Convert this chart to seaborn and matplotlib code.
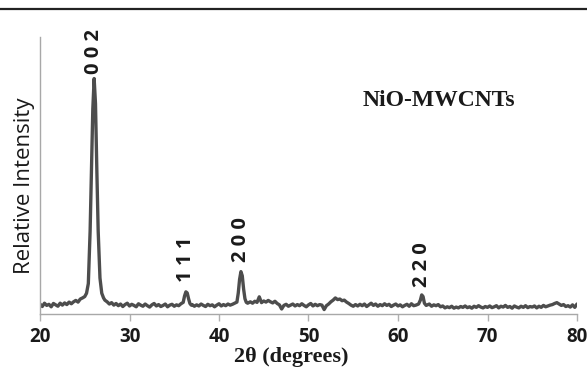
import matplotlib
matplotlib.use("Agg")
import matplotlib.pyplot as plt
import seaborn as sns
import pandas as pd
from matplotlib.lines import Line2D

# ---- data (2-theta in degrees, relative intensity in arbitrary units) ----
two_theta = [
    20.0, 20.25, 20.5, 20.75, 21.0, 21.25, 21.5, 21.75, 22.0, 22.25,
    22.5, 22.75, 23.0, 23.25, 23.5, 23.75, 24.0, 24.25, 24.5, 24.75,
    25.0, 25.2, 25.4, 25.6, 25.75, 25.9, 26.05, 26.2, 26.35, 26.5, 26.7, 26.9, 27.1,
    27.25, 27.5, 27.75, 28.0, 28.25, 28.5, 28.75, 29.0, 29.25, 29.5,
    29.75, 30.0, 30.25, 30.5, 30.75, 31.0, 31.25, 31.5, 31.75, 32.0,
    32.25, 32.5, 32.75, 33.0, 33.25, 33.5, 33.75, 34.0, 34.25, 34.5,
    34.75, 35.0, 35.25, 35.5, 35.75,
    36.0, 36.15, 36.3, 36.45, 36.6, 36.75, 36.9,
    37.0, 37.25, 37.5, 37.75, 38.0, 38.25, 38.5, 38.75, 39.0, 39.25,
    39.5, 39.75, 40.0, 40.25, 40.5, 40.75, 41.0, 41.25, 41.5, 41.75,
    42.0, 42.15, 42.3, 42.45, 42.6, 42.75, 42.9, 43.05, 43.2,
    43.5, 43.75, 44.0, 44.25, 44.5, 44.75, 45.0, 45.25, 45.5, 45.75,
    46.0, 46.25, 46.5, 46.75, 47.0, 47.25, 47.5, 47.75, 48.0, 48.25,
    48.5, 48.75, 49.0, 49.25, 49.5, 49.75, 50.0, 50.25, 50.5, 50.75,
    51.0, 51.25, 51.5,
    51.75, 52.0, 52.25, 52.5, 52.75, 53.0, 53.25, 53.5, 53.75, 54.0,
    54.25, 54.5, 54.75, 55.0, 55.25, 55.5, 55.75, 56.0, 56.25, 56.5,
    56.75, 57.0, 57.25, 57.5, 57.75, 58.0, 58.25, 58.5, 58.75, 59.0,
    59.25, 59.5, 59.75, 60.0, 60.25, 60.5, 60.75, 61.0, 61.25, 61.5, 61.75,
    62.0, 62.3, 62.5, 62.65, 62.8, 62.95, 63.15,
    63.5, 63.75, 64.0, 64.25, 64.5, 64.75, 65.0, 65.25, 65.5, 65.75,
    66.0, 66.25, 66.5, 66.75, 67.0, 67.25, 67.5, 67.75, 68.0, 68.25,
    68.5, 68.75, 69.0, 69.25, 69.5, 69.75, 70.0, 70.25, 70.5, 70.75,
    71.0, 71.25, 71.5, 71.75, 72.0, 72.25, 72.5, 72.75, 73.0, 73.25,
    73.5, 73.75, 74.0, 74.25, 74.5, 74.75, 75.0, 75.25, 75.5, 75.75,
    76.0, 76.25, 76.5, 76.75, 77.0,
    77.25, 77.5, 77.75, 78.0, 78.25, 78.5, 78.75, 79.0, 79.25, 79.5, 79.75, 80.0,
]
intensity = [
    3.6, 2.7, 3.9, 3.1, 3.5, 2.6, 3.8, 3.3, 2.8, 3.9,
    3.2, 4.0, 3.4, 4.3, 3.7, 4.4, 4.9, 4.3, 5.4, 5.8,
    6.3, 7.5, 11.0, 30.0, 52.0, 74.0, 85.0, 76.0, 52.0, 30.0, 13.0, 7.5, 5.8,
    5.0, 4.4, 3.6, 4.1, 3.2, 3.8, 3.0, 3.6, 2.7, 3.4,
    3.9, 2.9, 3.5, 3.1, 2.6, 3.7, 3.2, 2.8, 3.6, 3.0,
    2.5, 3.3, 3.8, 2.9, 3.4, 2.7, 3.1, 3.6, 2.6, 3.2,
    3.5, 2.8, 3.3, 3.0, 3.7,
    4.2, 6.5, 8.0, 7.6, 5.5, 3.8, 3.2,
    3.4, 2.8, 3.3, 2.9, 3.6, 3.1, 2.7, 3.5, 3.0, 3.3,
    2.6, 3.2, 3.7, 2.9, 3.4, 3.0, 3.6, 3.2, 3.5, 3.9,
    4.3, 7.5, 12.5, 15.3, 13.8, 9.0, 5.5, 4.2, 3.9,
    4.4, 3.9, 4.6, 4.2, 6.2, 4.1, 4.7, 4.3, 4.9, 4.4,
    4.0, 4.6, 3.8, 3.3, 1.8, 3.1, 3.5, 2.8, 3.2, 3.6,
    2.9, 3.4, 3.0, 3.7, 3.1, 2.6, 3.3, 3.8, 2.9, 3.5,
    3.0, 3.4, 3.2,
    1.6, 3.0, 3.6, 4.4, 5.0, 5.8, 5.2, 5.4, 4.8, 5.0,
    4.3, 3.8, 3.2, 2.8, 3.4, 2.9, 3.5, 3.0, 3.6, 2.7,
    3.3, 3.9, 3.1, 3.6, 2.8, 3.4, 3.0, 3.7, 3.1, 3.5,
    2.7, 3.2, 3.6, 2.9, 3.3, 2.6, 3.1, 3.5, 2.8, 3.7, 3.0,
    3.2, 3.6, 5.0, 6.9, 6.3, 3.9, 3.1,
    3.6, 2.8, 3.3, 3.0, 3.4, 2.6, 2.9, 2.2, 2.6, 2.3,
    2.8, 2.1, 2.5, 2.2, 2.7, 2.4, 2.9, 2.3, 2.6, 2.1,
    2.8, 2.4, 3.0, 2.5, 2.2, 2.7, 2.4, 2.9, 2.3, 2.6,
    3.0, 2.2, 2.8, 2.5, 3.1, 2.4, 2.7, 2.1, 2.9, 2.5,
    2.2, 2.8, 2.4, 3.0, 2.3, 2.7, 2.5, 2.9, 2.2, 2.8,
    2.4, 3.1, 2.6, 2.9, 3.2,
    3.4, 3.8, 4.1, 3.6, 3.1, 3.4, 2.7, 3.0, 2.5, 3.3, 2.4, 3.6,
]
assert len(two_theta) == len(intensity), (len(two_theta), len(intensity))

peak_labels = ["0 0 2", "1 1 1", "2 0 0", "2 2 0"]
peak_positions = [26.05, 36.3, 42.45, 62.65]
peak_heights = [85.0, 8.0, 15.3, 6.9]

x_ticks = [20, 30, 40, 50, 60, 70, 80]
sample_name = "NiO-MWCNTs"

df = pd.DataFrame({"two_theta": two_theta, "intensity": intensity})

sns.set_theme(style="white")
fig = plt.figure(figsize=(5.87, 3.68), dpi=100)
ax = fig.add_axes([40 / 587, 1 - 314 / 368, (577 - 40) / 587, (314 - 37) / 368])

sns.lineplot(data=df, x="two_theta", y="intensity", ax=ax, color="#4d4d4d",
             linewidth=2.4, sort=False)

ax.set_xlim(20, 80)
ax.set_ylim(0, 100)
ax.set_xticks(x_ticks)
ax.set_xticklabels([str(t) for t in x_ticks], fontfamily="Open Sans",
                   fontweight="bold", fontsize=13.5, color="#1a1a1a")
ax.set_yticks([])
ax.tick_params(axis="x", direction="out", length=5, width=1, color="#b0b0b0", pad=4,
               bottom=True)

for side in ["top", "right"]:
    ax.spines[side].set_visible(False)
for side in ["left", "bottom"]:
    ax.spines[side].set_color("#a8a8a8")
    ax.spines[side].set_linewidth(1.0)

ax.set_xlabel("")
ax.set_ylabel("")

# axis titles placed in figure pixel space
fig.text(291 / 587, 1 - 357 / 368, "2θ (degrees)", ha="center", va="center",
         fontfamily="Liberation Serif", fontweight="bold", fontsize=16, color="#1a1a1a")
fig.text(25 / 587, 1 - 186 / 368, "Relative Intensity", ha="center", va="center",
         rotation=90, fontfamily="Open Sans", fontsize=16, color="#1a1a1a")

# sample name
fig.text(439 / 587, 1 - 100 / 368, sample_name, ha="center", va="center",
         fontfamily="Liberation Serif", fontweight="bold", fontsize=17, color="#1a1a1a")

# peak labels (Miller indices) above each peak
label_offsets = [3, 7, 7, 6]
for lab, px, ph, off in zip(peak_labels, peak_positions, peak_heights, label_offsets):
    ax.annotate(lab, xy=(px, ph), xytext=(0, off), textcoords="offset points",
                rotation=90, ha="center", va="bottom",
                fontfamily="Open Sans", fontweight="bold", fontsize=14.5,
                color="#1a1a1a")

# top border line
fig.add_artist(Line2D([0, 1], [1 - 8.5 / 368, 1 - 8.5 / 368], transform=fig.transFigure,
                      color="#222222", linewidth=1.6))

fig.savefig("out.png", dpi=100)
